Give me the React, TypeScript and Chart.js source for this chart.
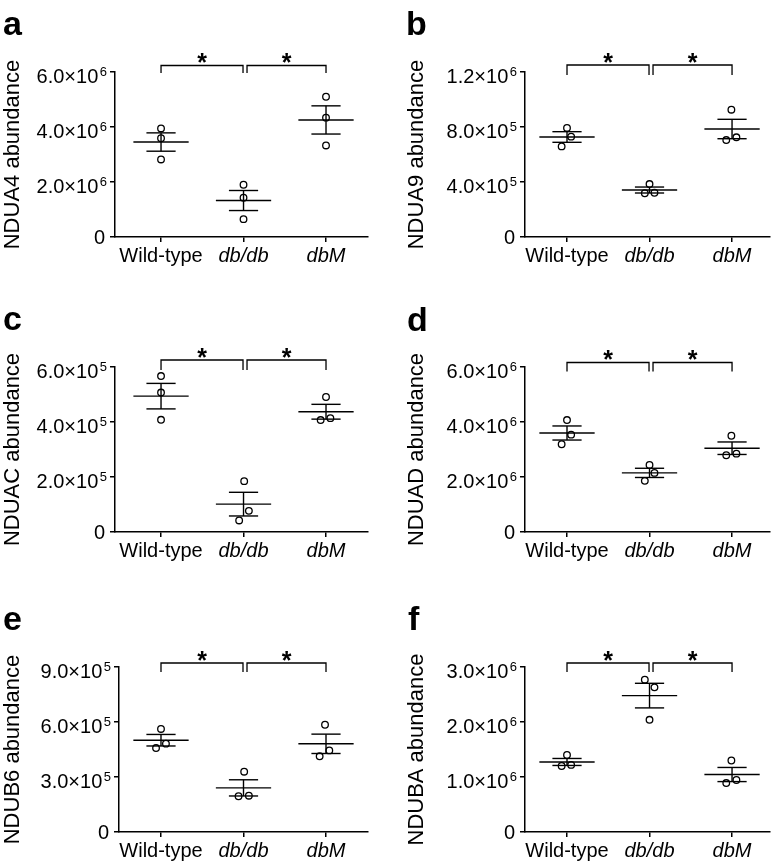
import React, { useEffect, useRef } from 'react';
import { Chart, registerables } from 'chart.js';

Chart.register(...registerables);

const FONT = "'Liberation Sans', Arial, 'DejaVu Sans', sans-serif";

// ---------- categories ----------
const groups = ['Wild-type', 'db/db', 'dbM'];
const comparisons: [number, number, string][] = [
  [0, 1, '*'],
  [1, 2, '*'],
];

// ---------- a: NDUA4 ----------
const ndua4WildType = [3.95e6, 3.59e6, 2.82e6];
const ndua4DbDb = [1.9e6, 1.43e6, 0.65e6];
const ndua4DbM = [5.1e6, 4.34e6, 3.33e6];
const ndua4Jitter = [[0, 0, 0], [0, 0, 0], [0, 0, 0]];
const ndua4Ticks = ['0', '2.0×10^6', '4.0×10^6', '6.0×10^6'];

// ---------- b: NDUA9 ----------
const ndua9WildType = [7.93e5, 7.3e5, 6.59e5];
const ndua9DbDb = [3.85e5, 3.22e5, 3.18e5];
const ndua9DbM = [9.26e5, 7.05e5, 7.25e5];
const ndua9Jitter = [[0, 0.05, -0.065], [0, 0.06, -0.057], [-0.008, -0.07, 0.053]];
const ndua9Ticks = ['0', '4.0×10^5', '8.0×10^5', '1.2×10^6'];

// ---------- c: NDUAC ----------
const nduacWildType = [5.67e5, 5.07e5, 4.08e5];
const nduacDbDb = [1.85e5, 0.77e5, 0.42e5];
const nduacDbM = [4.91e5, 4.07e5, 4.14e5];
const nduacJitter = [[0, 0, 0], [0.008, 0.065, -0.053], [0, -0.065, 0.053]];
const nduacTicks = ['0', '2.0×10^5', '4.0×10^5', '6.0×10^5'];

// ---------- d: NDUAD ----------
const nduadWildType = [4.07e6, 3.54e6, 3.19e6];
const nduadDbDb = [2.44e6, 2.15e6, 1.86e6];
const nduadDbM = [3.5e6, 2.79e6, 2.85e6];
const nduadJitter = [[0, 0.05, -0.065], [0, 0.06, -0.057], [-0.008, -0.07, 0.053]];
const nduadTicks = ['0', '2.0×10^6', '4.0×10^6', '6.0×10^6'];

// ---------- e: NDUB6 ----------
const ndub6WildType = [5.62e5, 4.82e5, 4.58e5];
const ndub6DbDb = [3.29e5, 1.98e5, 1.95e5];
const ndub6DbM = [5.85e5, 4.45e5, 4.13e5];
const ndub6Jitter = [[0, 0.06, -0.06], [0.008, 0.065, -0.06], [-0.012, 0.04, -0.077]];
const ndub6Ticks = ['0', '3.0×10^5', '6.0×10^5', '9.0×10^5'];

// ---------- f: NDUBA ----------
const ndubaWildType = [1.4e6, 1.22e6, 1.2e6];
const ndubaDbDb = [2.77e6, 2.63e6, 2.04e6];
const ndubaDbM = [1.3e6, 0.945e6, 0.89e6];
const ndubaJitter = [[0, 0.05, -0.065], [-0.057, 0.06, 0], [-0.008, 0.053, -0.07]];
const ndubaTicks = ['0', '1.0×10^6', '2.0×10^6', '3.0×10^6'];

const MEAN_HALF = 0.335;
const CAP_HALF = 0.177;

type PanelDef = {
  letter: string;
  title: string;
  series: number[][];
  jitter: number[][];
  max: number;
  step: number;
  tickLabels: string[];
  box: { left: number; top: number; w: number; h: number };
  area: { l: number; r: number; t: number; b: number };
  xmin: number;
  xmax: number;
  titleShift: number;
  rise: number;
  drop: number;
  letterPos: [number, number];
};

const panels: PanelDef[] = [
  {
    letter: 'a', title: 'NDUA4 abundance', series: [ndua4WildType, ndua4DbDb, ndua4DbM], jitter: ndua4Jitter,
    max: 6e6, step: 2e6, tickLabels: ndua4Ticks,
    box: { left: 0, top: 0, w: 388, h: 290 }, area: { l: 115, r: 368, t: 72, b: 237 },
    xmin: -0.558, xmax: 2.509, titleShift: 0, rise: 6.5, drop: 1, letterPos: [3, 35],
  },
  {
    letter: 'b', title: 'NDUA9 abundance', series: [ndua9WildType, ndua9DbDb, ndua9DbM], jitter: ndua9Jitter,
    max: 1.2e6, step: 4e5, tickLabels: ndua9Ticks,
    box: { left: 388, top: 0, w: 388, h: 290 }, area: { l: 137, r: 382, t: 72, b: 237 },
    xmin: -0.509, xmax: 2.46, titleShift: 16, rise: 7, drop: 3, letterPos: [18, 35],
  },
  {
    letter: 'c', title: 'NDUAC abundance', series: [nduacWildType, nduacDbDb, nduacDbM], jitter: nduacJitter,
    max: 6e5, step: 2e5, tickLabels: nduacTicks,
    box: { left: 0, top: 290, w: 388, h: 290 }, area: { l: 115, r: 368, t: 77, b: 242 },
    xmin: -0.558, xmax: 2.509, titleShift: 0, rise: 7, drop: 3, letterPos: [3, 40],
  },
  {
    letter: 'd', title: 'NDUAD abundance', series: [nduadWildType, nduadDbDb, nduadDbM], jitter: nduadJitter,
    max: 6e6, step: 2e6, tickLabels: nduadTicks,
    box: { left: 388, top: 290, w: 388, h: 290 }, area: { l: 137, r: 382, t: 77, b: 242 },
    xmin: -0.509, xmax: 2.46, titleShift: 16, rise: 4.5, drop: 4.5, letterPos: [19, 41],
  },
  {
    letter: 'e', title: 'NDUB6 abundance', series: [ndub6WildType, ndub6DbDb, ndub6DbM], jitter: ndub6Jitter,
    max: 9e5, step: 3e5, tickLabels: ndub6Ticks,
    box: { left: 0, top: 580, w: 388, h: 284 }, area: { l: 119, r: 368, t: 87, b: 252 },
    xmin: -0.509, xmax: 2.509, titleShift: 0, rise: 4, drop: 5, letterPos: [3, 50],
  },
  {
    letter: 'f', title: 'NDUBA abundance', series: [ndubaWildType, ndubaDbDb, ndubaDbM], jitter: ndubaJitter,
    max: 3e6, step: 1e6, tickLabels: ndubaTicks,
    box: { left: 388, top: 580, w: 388, h: 284 }, area: { l: 137, r: 382, t: 87, b: 252 },
    xmin: -0.509, xmax: 2.46, titleShift: 16, rise: 4, drop: 5, letterPos: [20, 50],
  },
];

function Panel({ p }: { p: PanelDef }) {
  const ref = useRef<HTMLCanvasElement | null>(null);

  useEffect(() => {
    if (!ref.current) return;
    const points: { x: number; y: number }[] = [];
    p.series.forEach((vals, gi) => {
      vals.forEach((v, k) => points.push({ x: gi + p.jitter[gi][k], y: v }));
    });

    const overlay = {
      id: 'overlay' + p.letter,
      afterDatasetsDraw(chart: any) {
        const ctx = chart.ctx as CanvasRenderingContext2D;
        const xs = chart.scales.x;
        const ys = chart.scales.y;
        const line = (x1: number, y1: number, x2: number, y2: number) => {
          ctx.beginPath();
          ctx.moveTo(x1, y1);
          ctx.lineTo(x2, y2);
          ctx.stroke();
        };
        ctx.save();
        ctx.strokeStyle = '#000';
        ctx.lineWidth = 1.4;
        ctx.lineCap = 'butt';
        // mean ± SEM
        p.series.forEach((vals, i) => {
          const n = vals.length;
          const mean = vals.reduce((a, b) => a + b, 0) / n;
          const sd = Math.sqrt(vals.reduce((a, b) => a + (b - mean) * (b - mean), 0) / (n - 1));
          const sem = sd / Math.sqrt(n);
          const yM = ys.getPixelForValue(mean);
          const yH = ys.getPixelForValue(mean + sem);
          const yL = ys.getPixelForValue(mean - sem);
          const xc = xs.getPixelForValue(i);
          line(xs.getPixelForValue(i - MEAN_HALF), yM, xs.getPixelForValue(i + MEAN_HALF), yM);
          line(xc, yH, xc, yL);
          line(xs.getPixelForValue(i - CAP_HALF), yH, xs.getPixelForValue(i + CAP_HALF), yH);
          line(xs.getPixelForValue(i - CAP_HALF), yL, xs.getPixelForValue(i + CAP_HALF), yL);
        });
        // y tick labels with superscript exponents
        ctx.fillStyle = '#000';
        ys.ticks.forEach((t: any) => {
          const label = p.tickLabels[Math.round(t.value / p.step)] ?? '';
          const y = ys.getPixelForValue(t.value);
          const right = chart.chartArea.left - 8;
          const [main, sup] = label.split('^');
          ctx.textBaseline = 'alphabetic';
          if (sup) {
            ctx.font = `13px ${FONT}`;
            const sw = ctx.measureText(sup).width;
            ctx.textAlign = 'right';
            ctx.fillText(sup, right, y + 3.5);
            ctx.font = `20px ${FONT}`;
            ctx.fillText(main, right - sw - 1.5, y + 11);
          } else {
            ctx.font = `20px ${FONT}`;
            ctx.textAlign = 'right';
            ctx.fillText(main, right - 2, y + 7);
          }
        });
        // significance brackets
        const top = chart.chartArea.top;
        const yb = top - p.rise;
        const yd = top + p.drop;
        ctx.lineWidth = 1.3;
        comparisons.forEach(([a, b, mark], ci) => {
          let xa = xs.getPixelForValue(a);
          let xb = xs.getPixelForValue(b);
          if (ci === 0) xb -= 0.5;
          else xa += 3.5;
          ctx.beginPath();
          ctx.moveTo(xa, yd);
          ctx.lineTo(xa, yb);
          ctx.lineTo(xb, yb);
          ctx.lineTo(xb, yd);
          ctx.stroke();
          ctx.font = `bold 25px ${FONT}`;
          ctx.fillStyle = '#000';
          ctx.textAlign = 'center';
          ctx.textBaseline = 'alphabetic';
          const m = ctx.measureText(mark);
          const cy = yb - 7.5;
          const base = cy + (m.actualBoundingBoxAscent - m.actualBoundingBoxDescent) / 2;
          ctx.fillText(mark, (xa + xb) / 2, base);
        });
        // panel letter
        ctx.font = `bold 34px ${FONT}`;
        ctx.textAlign = 'left';
        ctx.textBaseline = 'alphabetic';
        ctx.fillStyle = '#000';
        ctx.fillText(p.letter, p.letterPos[0], p.letterPos[1]);
        ctx.restore();
      },
    };

    const chart = new Chart(ref.current, {
      type: 'scatter',
      data: {
        datasets: [
          {
            data: points,
            pointRadius: 3.3,
            pointHoverRadius: 3.3,
            pointBorderWidth: 1.3,
            pointBorderColor: '#000',
            pointBackgroundColor: 'rgba(255,255,255,0)',
            borderColor: '#000',
            backgroundColor: 'rgba(255,255,255,0)',
            clip: false,
          } as any,
        ],
      },
      options: {
        animation: false,
        responsive: false,
        maintainAspectRatio: false,
        events: [],
        layout: {
          padding: { left: 0, top: p.area.t, right: p.box.w - p.area.r, bottom: 0 },
        },
        plugins: {
          legend: { display: false },
          tooltip: { enabled: false },
          title: { display: false },
        },
        scales: {
          x: {
            type: 'linear',
            min: p.xmin,
            max: p.xmax,
            afterBuildTicks: (s: any) => {
              s.ticks = groups.map((_, i) => ({ value: i }));
            },
            afterFit: (s: any) => {
              s.height = p.box.h - p.area.b;
            },
            ticks: {
              callback: (v: any) => groups[Math.round(Number(v))] ?? '',
              color: '#000',
              padding: 2,
              maxRotation: 0,
              autoSkip: false,
              font: (c: any) => ({ family: FONT, size: 20, style: c.index === 0 ? 'normal' : 'italic' }),
            },
            grid: {
              drawOnChartArea: false,
              drawTicks: true,
              tickLength: 5,
              color: '#000',
              lineWidth: 1.5,
            },
            border: { display: true, color: '#000', width: 1.5 },
          },
          y: {
            type: 'linear',
            min: 0,
            max: p.max,
            afterFit: (s: any) => {
              s.width = p.area.l;
            },
            ticks: {
              stepSize: p.step,
              display: false,
            },
            title: {
              display: true,
              text: p.title,
              color: '#000',
              font: { family: FONT, size: 22 },
              padding: { top: p.titleShift, bottom: 0 },
            },
            grid: {
              drawOnChartArea: false,
              drawTicks: true,
              tickLength: 5,
              color: '#000',
              lineWidth: 1.5,
            },
            border: { display: true, color: '#000', width: 1.5 },
          },
        },
      } as any,
      plugins: [overlay as any],
    });
    return () => chart.destroy();
  }, [p]);

  return (
    <canvas
      ref={ref}
      width={p.box.w}
      height={p.box.h}
      style={{
        position: 'absolute',
        left: p.box.left,
        top: p.box.top,
        width: p.box.w,
        height: p.box.h,
      }}
    />
  );
}

export default function App() {
  return (
    <div
      style={{
        position: 'absolute',
        left: 0,
        top: 0,
        width: 776,
        height: 864,
        background: '#fff',
        overflow: 'hidden',
      }}
    >
      {panels.map((p) => (
        <Panel key={p.letter} p={p} />
      ))}
    </div>
  );
}
